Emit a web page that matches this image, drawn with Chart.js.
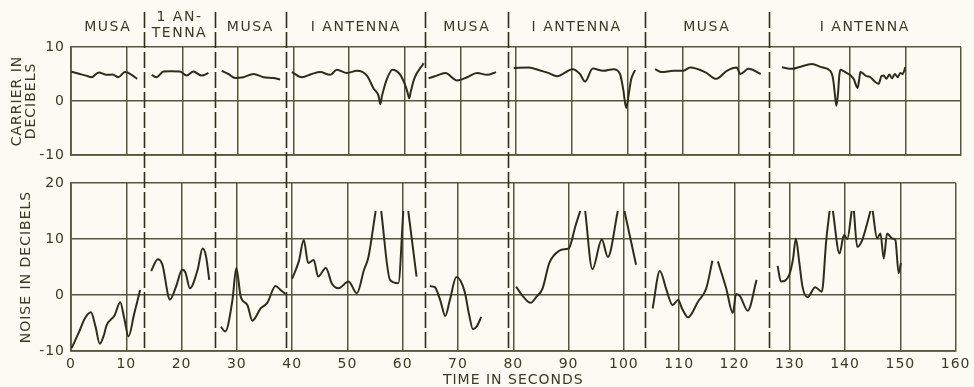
<!DOCTYPE html>
<html>
<head>
<meta charset="utf-8">
<script src="https://cdn.jsdelivr.net/npm/chart.js@4.4.1/dist/chart.umd.min.js"></script>
<style>
  html, body { margin: 0; padding: 0; background: #fbfbf3; }
  #wrap { position: relative; width: 974px; height: 387px; overflow: hidden; }
  #wrap canvas { position: absolute; left: 0; top: 0; }
</style>
</head>
<body>
<div id="wrap">
  <canvas id="noise" width="974" height="387"></canvas>
  <canvas id="carrier" width="974" height="387"></canvas>
</div>
<script>
// ---- data -------------------------------------------------------------
// Time (s) where reception switches between MUSA and single antenna
const modeBounds = [13.2, 25.8, 38.7, 63.7, 78.6, 103.2, 125.4];
const modeLabels = ['MUSA', '1 AN-\nTENNA', 'MUSA', 'I ANTENNA', 'MUSA', 'I ANTENNA', 'MUSA', 'I ANTENNA'];

const timeTicks = [0, 10, 20, 30, 40, 50, 60, 70, 80, 90, 100, 110, 120, 130, 140, 150, 160];
const carrierTicks = [-10, 0, 10];
const noiseTicks = [-10, 0, 10, 20];

// Carrier level (dB); null separates the recorded runs
const carrierTime = [
  0.1, 1.6, 2.7, 3.7, 5.0, 6.4, 7.5, 8.5, 9.7, 10.9, 11.9,
  13.2,
  14.5, 15.4, 16.6, 18.0, 19.6, 20.8, 22.0, 23.5, 24.7,
  25.8,
  27.1, 28.3, 29.5, 31.0, 32.8, 34.6, 36.4, 37.6,
  38.7,
  39.7, 41.5, 43.3, 44.8, 46.6, 47.8, 49.6, 51.4, 53.2, 54.4, 55.3, 55.6, 55.9, 56.8, 57.8, 59.2, 60.1, 60.5, 60.8, 61.1, 61.7, 63.4,
  63.7,
  64.3, 65.5, 67.3, 69.4, 71.2, 73.0, 74.8, 76.4,
  78.6,
  79.6, 82.3, 84.2, 85.8, 87.4, 90.2, 91.5, 92.4, 93.8, 95.7, 97.5, 98.7, 99.3, 99.8, 100.3, 100.7, 101.4,
  103.2,
  105.0, 106.2, 108.3, 110.1, 111.3, 114.0, 116.0, 117.9, 119.7, 120.3, 121.8, 124.0,
  125.4,
  127.8, 129.6, 131.0, 133.2, 135.0, 136.5, 137.0, 137.3, 137.6, 137.9, 138.1, 138.3, 139.2, 140.7, 141.1, 141.4, 141.7, 141.9,
  143.0, 143.7, 144.5, 145.2, 145.7, 146.1, 146.6, 147.1, 147.6, 148.1, 148.6, 149.1, 149.5, 150.0
];
const carrierDb = [
  5.4, 5.0, 4.7, 4.4, 5.3, 4.85, 4.9, 4.4, 5.35, 4.85, 4.1,
  null,
  4.85, 4.4, 5.45, 5.5, 5.45, 4.7, 5.45, 4.7, 5.2,
  null,
  5.6, 5.0, 4.25, 4.4, 5.0, 4.4, 4.25, 4.0,
  null,
  5.35, 4.4, 5.0, 5.35, 4.85, 5.8, 5.2, 5.6, 4.7, 2.3, 0.9, -0.6, 0.9, 4.1, 5.8, 4.85, 2.9, 1.6, 0.5, 1.8, 4.1, 7.0,
  null,
  4.2, 4.6, 5.2, 3.8, 4.4, 5.2, 4.85, 5.35,
  null,
  6.1, 6.2, 5.7, 5.2, 4.6, 5.9, 5.0, 3.6, 6.0, 5.6, 5.9, 5.0, 2.0, -1.3, 1.5, 4.0, 5.7,
  null,
  5.9, 5.35, 5.6, 5.6, 6.2, 5.35, 4.1, 5.6, 6.2, 5.0, 5.95, 5.0,
  null,
  6.25, 5.95, 6.3, 6.85, 6.25, 5.6, 4.1, 1.5, -0.9, 1.5, 4.5, 5.8, 5.35, 4.1, 3.0, 2.4, 4.0, 5.35,
  4.6, 4.4, 3.6, 3.2, 4.6, 4.7, 4.1, 4.9, 4.2, 5.0, 4.4, 5.2, 5.0, 6.25
];

// Noise level (dB); null separates runs and the off-scale peaks
const noiseTime = [
  0.1, 1.5, 2.5, 3.6, 4.4, 5.2, 6.0, 6.4, 7.9, 8.9, 9.6, 10.4, 11.4, 12.5,
  13.2,
  14.5, 15.7, 16.5, 17.9, 19.0, 20.1, 20.7, 21.5, 22.9, 23.8, 24.4, 25.0,
  25.8,
  27.1, 27.9, 29.2, 29.9, 30.7, 31.9, 32.8, 34.3, 35.5, 37.0, 38.0, 38.8,
  39.3,
  40.0, 41.2, 42.1, 42.9, 43.9, 44.7, 46.1, 47.2, 48.4, 50.2, 51.7, 53.0, 53.8, 55.1, 55.6, 56.1, 57.7, 59.2, 60.1, 60.5, 61.0, 62.5,
  63.7,
  64.9, 65.8, 66.8, 67.7, 68.5, 69.7, 71.2, 72.0, 72.7, 73.4, 74.2,
  78.6,
  80.5, 81.8, 83.1, 84.2, 85.3, 86.5, 88.3, 89.6, 90.1, 91.2, 92.1, 92.5, 93.0, 94.3, 96.0, 97.1, 98.9, 99.5, 100.1, 102.2,
  103.2,
  105.2, 106.5, 107.7, 108.8, 109.8, 110.6, 111.6, 113.4, 114.9, 116.0, 116.5, 117.0, 118.5, 119.7, 120.3, 121.0, 122.4, 124.0,
  125.4,
  127.8, 128.4, 129.9, 130.6, 131.1, 131.7, 132.3, 133.2, 134.6, 135.8, 136.6, 137.2, 137.5, 137.8, 139.0, 139.8, 140.4, 141.2, 141.4,
  141.6, 142.2, 143.1, 144.6, 144.8, 145.0, 145.8, 146.4, 147.0, 147.6, 148.5, 149.1, 149.7, 150.1
];
const noiseDb = [
  -9.5, -6.5, -4.2, -3.1, -5.5, -8.7, -7.0, -5.5, -3.6, -1.3, -4.0, -7.4, -3.5, 0.9,
  null,
  4.3, 6.4, 5.5, -0.8, 1.5, 4.5, 4.0, 1.2, 4.5, 8.3, 7.0, 2.7,
  null,
  -5.7, -6.5, -0.9, 4.8, -0.3, -1.8, -4.6, -2.4, -1.4, 1.6, 0.8, 0.2,
  null,
  2.9, 6.0, 9.8, 5.7, 6.25, 3.3, 4.8, 2.0, 1.2, 2.4, 0.3, 4.5, 6.8, 15.0, null, 15.0, 2.7, 2.1, 15.0, null, 15.0, 3.3,
  null,
  1.6, 1.4, -1.0, -3.75, -1.0, 3.2, 0.6, -3.5, -6.1, -5.6, -3.9,
  null,
  1.5, -0.3, -1.4, -0.3, 1.2, 5.7, 7.9, 8.2, 8.4, 12.2, 15.0, null, 15.0, 4.6, 9.9, 6.8, 15.0, null, 15.0, 5.4,
  null,
  -2.4, 4.3, 0.9, -1.8, -0.9, -2.6, -4.0, -1.2, 1.2, 6.1, null, 6.0, 1.2, -3.2, 0.2, -0.2, -2.8, 2.7,
  null,
  5.2, 2.4, 3.6, 6.5, 10.1, 6.0, 1.5, -0.4, 1.4, 0.6, 9.8, 15.0, null, 15.0, 7.4, 10.7, 10.0, 15.0, null,
  15.0, 8.6, 9.8, 15.0, null, 15.0, 10.1, 11.0, 6.5, 11.0, 10.1, 9.8, 3.9, 5.7
];

// ---- styling ----------------------------------------------------------
const INK = '#2d2d1b';
const GRID = '#56563b';
const TEXT = '#3a3a25';

Chart.defaults.font.family = '"DejaVu Sans", "Liberation Sans", sans-serif';
Chart.defaults.color = TEXT;

const toPoints = (xs, ys) => xs.map((x, i) => ({ x: x, y: ys[i] }));
const fixTicks = list => scale => { scale.ticks = list.map(v => ({ value: v })); };

const letterSpacing = {
  id: 'letterSpacing',
  beforeDraw(chart) { chart.ctx.letterSpacing = '1px'; }
};

// dashed mode separators and the mode captions above the carrier panel
const modeHeader = {
  id: 'modeHeader',
  afterDraw(chart) {
    const ctx = chart.ctx;
    const xs = chart.scales.x;
    ctx.save();
    ctx.strokeStyle = INK;
    ctx.lineWidth = 1.6;
    ctx.setLineDash([16, 4]);
    modeBounds.forEach(b => {
      const px = Math.round(xs.getPixelForValue(b)) + 0.5;
      ctx.beginPath();
      ctx.moveTo(px, 12);
      ctx.lineTo(px, 352);
      ctx.stroke();
    });
    ctx.setLineDash([]);
    ctx.fillStyle = TEXT;
    ctx.font = '14px "DejaVu Sans", sans-serif';
    ctx.letterSpacing = '1.5px';
    ctx.textAlign = 'center';
    ctx.textBaseline = 'middle';
    const edges = [0].concat(modeBounds, [160]);
    modeLabels.forEach((label, i) => {
      const cx = (xs.getPixelForValue(edges[i]) + xs.getPixelForValue(edges[i + 1])) / 2;
      const lines = label.split('\n');
      if (lines.length === 1) {
        ctx.fillText(lines[0], cx, 27);
      } else {
        ctx.fillText(lines[0], cx, 17);
        ctx.fillText(lines[1], cx, 33);
      }
    });
    ctx.restore();
  }
};

const gridStyle = { color: GRID, lineWidth: 1.5, drawTicks: false };
const borderStyle = { color: GRID, width: 1.8 };

function lineDataset(points) {
  return {
    data: points,
    borderColor: INK,
    borderWidth: 2,
    pointRadius: 0,
    fill: false,
    spanGaps: false,
    cubicInterpolationMode: 'monotone'
  };
}

// ---- noise panel (lower) ---------------------------------------------
new Chart(document.getElementById('noise'), {
  type: 'line',
  data: { datasets: [lineDataset(toPoints(noiseTime, noiseDb))] },
  options: {
    responsive: false,
    animation: false,
    events: [],
    layout: { padding: { top: 183, right: 13, bottom: 0, left: 0 } },
    plugins: { legend: { display: false }, tooltip: { enabled: false } },
    scales: {
      x: {
        type: 'linear', min: 0, max: 160,
        afterBuildTicks: fixTicks(timeTicks),
        ticks: { padding: 5, maxRotation: 0, font: { size: 14 } },
        grid: gridStyle, border: borderStyle,
        title: { display: true, text: 'TIME IN SECONDS', font: { size: 14, lineHeight: 1 }, padding: { top: 0, bottom: 0 } },
        afterFit(s) { s.height = 36; }
      },
      y: {
        min: -10, max: 20,
        afterBuildTicks: fixTicks(noiseTicks),
        ticks: { padding: 6, font: { size: 14 } },
        grid: gridStyle, border: borderStyle,
        title: { display: true, text: 'NOISE IN DECIBELS', font: { size: 14, lineHeight: 1 }, padding: { top: 19, bottom: 0 } },
        afterFit(s) { s.width = 71; }
      }
    }
  },
  plugins: [letterSpacing]
});

// ---- carrier panel (upper) -------------------------------------------
new Chart(document.getElementById('carrier'), {
  type: 'line',
  data: { datasets: [lineDataset(toPoints(carrierTime, carrierDb))] },
  options: {
    responsive: false,
    animation: false,
    events: [],
    layout: { padding: { top: 47, right: 13, bottom: 232, left: 0 } },
    plugins: { legend: { display: false }, tooltip: { enabled: false } },
    scales: {
      x: {
        type: 'linear', min: 0, max: 160,
        afterBuildTicks: fixTicks(timeTicks),
        ticks: { display: false },
        grid: gridStyle, border: borderStyle,
        afterFit(s) { s.height = 0; }
      },
      y: {
        min: -10, max: 10,
        afterBuildTicks: fixTicks(carrierTicks),
        ticks: { padding: 6, font: { size: 14 } },
        grid: gridStyle, border: borderStyle,
        title: { display: true, text: ['CARRIER IN', 'DECIBELS'], font: { size: 14, lineHeight: 1 }, padding: { top: 10, bottom: 0 } },
        afterFit(s) { s.width = 71; }
      }
    }
  },
  plugins: [letterSpacing, modeHeader]
});
</script>
</body>
</html>
